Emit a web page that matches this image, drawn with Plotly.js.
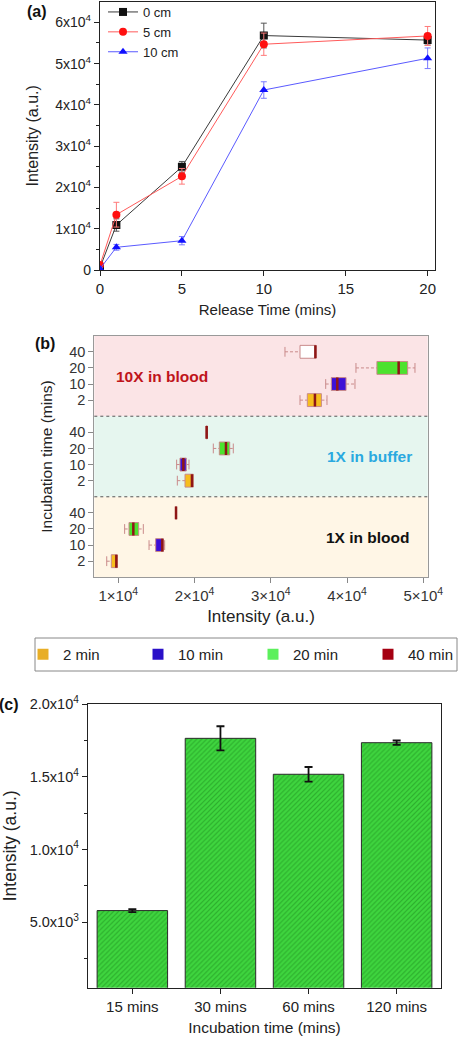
<!DOCTYPE html>
<html>
<head>
<meta charset="utf-8">
<script src="https://cdn.plot.ly/plotly-3.0.1.min.js"></script>
<style>html,body{margin:0;padding:0;background:#fff;}#chart{width:458px;height:1040px;}</style>
</head>
<body>
<div id="chart"></div>
<script>
// ---------- Panel (a) data ----------
const releaseTimes = [0, 1, 5, 10, 20];
const series0cm = [600, 10900, 25000, 56800, 55700];
const err0cm = [300, 1500, 1300, 3000, 1200];
const series5cm = [1200, 13400, 22700, 54700, 56700];
const err5cm = [500, 3000, 1900, 2700, 2300];
const series10cm = [300, 5500, 7100, 43600, 51300];
const err10cm = [200, 700, 1000, 2000, 2500];

// ---------- Panel (b) data: rows = 2,10,20,40 min; cols = [lower, q1, median, q3, upper] ----------
const incubLabels = ['2 min', '10 min', '20 min', '40 min'];
const incubTickText = ['2', '10', '20', '40'];
const blood1X = [
  [8480, 9080, 9740, 9870, 9870],
  [14030, 14900, 15770, 15900, 16080],
  [10830, 11400, 11970, 12670, 13280],
  [17570, 17540, 17570, 17600, 17570]
];
const buffer1X = [
  [17740, 18750, 19660, 19840, 19840],
  [17650, 18090, 18530, 18920, 19270],
  [22460, 23250, 24120, 24610, 25080],
  [21590, 21500, 21590, 21680, 21590]
];
const blood10X = [
  [33830, 34790, 35790, 36640, 37370],
  [37200, 37940, 38720, 39870, 41040],
  [41170, 43920, 46770, 47950, 48910],
  [31860, 33830, 35850, 35930, 35930]
];
const groupNames = ['1X in blood', '1X in buffer', '10X in blood'];
const boxColors = ['#F6BE1E', '#3D10D6', '#4CE22E', '#FFFFFF'];
const legendColors = ['#E8AE26', '#2A10C8', '#5CF05C', '#A50012'];

// ---------- Panel (c) data ----------
const incubCats = ['15 mins', '30 mins', '60 mins', '120 mins'];
const incubValues = [5800, 17640, 15170, 17340];
const incubErrors = [100, 830, 500, 150];

const FONT = '"Liberation Sans", Arial, sans-serif';
const traces = [];

// Panel (a)
const aSeries = [
  {name: '0 cm', y: series0cm, e: err0cm, line: '#3a3a3a', mk: '#111111', err: '#555555', sym: 'square'},
  {name: '5 cm', y: series5cm, e: err5cm, line: '#ff5a5a', mk: '#ff1010', err: '#ff7a7a', sym: 'circle'},
  {name: '10 cm', y: series10cm, e: err10cm, line: '#5a5aff', mk: '#1010ff', err: '#7a7aff', sym: 'triangle-up'}
];
aSeries.forEach(s => {
  traces.push({
    type: 'scatter', mode: 'lines+markers', name: s.name,
    x: releaseTimes, y: s.y, xaxis: 'x', yaxis: 'y', legend: 'legend',
    line: {color: s.line, width: 1},
    marker: {color: s.mk, symbol: s.sym, size: 8},
    error_y: {type: 'data', array: s.e, visible: true, color: s.err, thickness: 1, width: 3}
  });
});

// Panel (b)
const groups = [blood1X, buffer1X, blood10X];
const groupBase = [0, 5, 10];
const whiskerColor = '#c98a8a';
groups.forEach((g, gi) => {
  g.forEach((st, ti) => {
    const pos = groupBase[gi] + ti;
    const [lf, q1, med, q3, uf] = st;
    traces.push({
      type: 'box', orientation: 'h', xaxis: 'x2', yaxis: 'y2', showlegend: false,
      name: groupNames[gi] + ' ' + incubLabels[ti],
      y: [pos], q1: [q1], median: [med], q3: [q3], lowerfence: [q1], upperfence: [q3],
      width: 0.8, whiskerwidth: 0,
      fillcolor: boxColors[ti], line: {color: whiskerColor, width: 1},
      hoverinfo: 'skip'
    });
    const wx = [], wy = [], cx = [], cy = [];
    if (lf < q1) { wx.push(lf, q1, null); wy.push(pos, pos, null); cx.push(lf); cy.push(pos); }
    if (uf > q3) { wx.push(q3, uf, null); wy.push(pos, pos, null); cx.push(uf); cy.push(pos); }
    if (wx.length) {
      traces.push({type: 'scatter', mode: 'lines', x: wx, y: wy, xaxis: 'x2', yaxis: 'y2', showlegend: false,
        line: {color: whiskerColor, width: 1, dash: '3px,2px'}, hoverinfo: 'skip'});
      traces.push({type: 'scatter', mode: 'markers', x: cx, y: cy, xaxis: 'x2', yaxis: 'y2', showlegend: false,
        marker: {symbol: 'line-ns', size: 7, line: {color: whiskerColor, width: 1}}, hoverinfo: 'skip'});
    }
    traces.push({type: 'scatter', mode: 'lines', x: [med, med], y: [pos - 0.4, pos + 0.4], xaxis: 'x2', yaxis: 'y2',
      showlegend: false, line: {color: '#8e1616', width: 2.5}, hoverinfo: 'skip'});
  });
});
incubLabels.forEach((lab, i) => {
  traces.push({type: 'scatter', mode: 'markers', name: lab, x: [null], y: [null], xaxis: 'x2', yaxis: 'y2',
    legend: 'legend2', marker: {symbol: 'square', size: 11, color: legendColors[i]}});
});

// Panel (c)
traces.push({
  type: 'bar', x: incubCats, y: incubValues, xaxis: 'x3', yaxis: 'y3', showlegend: false, width: 0.8,
  marker: {color: '#3fd63f', line: {color: '#2a2a2a', width: 1},
    pattern: {shape: '/', fgcolor: '#1c8a1c', size: 3.5, solidity: 0.35, fillmode: 'overlay'}},
  error_y: {type: 'data', array: incubErrors, visible: true, color: '#111', thickness: 1.8, width: 4}
});

const H = 1040, W = 458;
const px = v => v / W, py = v => 1 - v / H;
const ann = (text, x, y, size, color) => ({text, xref: 'paper', yref: 'paper', x: px(x), y: py(y),
  xanchor: 'center', yanchor: 'middle', showarrow: false, font: {size, color}});

const layout = {
  width: W, height: H, margin: {l: 0, r: 0, t: 0, b: 0, autoexpand: false},
  paper_bgcolor: '#fff', plot_bgcolor: 'rgba(0,0,0,0)',
  font: {family: FONT, color: '#222', size: 14},
  showlegend: true,
  // (a)
  xaxis: {domain: [px(100), px(435)], anchor: 'y', range: [0, 20.45], tickvals: [0, 5, 10, 15, 20],
    ticks: 'outside', ticklen: 5, tickcolor: '#222', showline: true, linecolor: '#222', linewidth: 1.2, mirror: true,
    showgrid: false, zeroline: false, tickfont: {size: 15},
    title: {text: 'Release Time (mins)', font: {size: 15}, standoff: 8}},
  yaxis: {domain: [py(270), py(1.7)], anchor: 'x', range: [0, 65000],
    tickvals: [0, 10000, 20000, 30000, 40000, 50000, 60000],
    ticktext: ['0', '1x10<sup>4</sup>', '2x10<sup>4</sup>', '3x10<sup>4</sup>', '4x10<sup>4</sup>', '5x10<sup>4</sup>', '6x10<sup>4</sup>'],
    ticks: 'outside', ticklen: 5, tickcolor: '#222', showline: true, linecolor: '#222', linewidth: 1.2, mirror: true,
    minor: {tickvals: [5000, 15000, 25000, 35000, 45000, 55000], ticks: 'outside', ticklen: 3, tickcolor: '#222'},
    showgrid: false, zeroline: false, tickfont: {size: 14},
    title: {text: 'Intensity (a.u.)', font: {size: 16}, standoff: 12}},
  legend: {x: px(103), y: py(-3), xanchor: 'left', yanchor: 'top', bgcolor: 'rgba(0,0,0,0)',
    font: {size: 13, color: '#222'}, tracegroupgap: 0, itemwidth: 30},
  // (b)
  xaxis2: {domain: [px(94.3), px(427.7)], anchor: 'y2', range: [6850, 50580],
    tickvals: [10000, 20000, 30000, 40000, 50000],
    ticktext: ['1×10<sup>4</sup>', '2×10<sup>4</sup>', '3×10<sup>4</sup>', '4×10<sup>4</sup>', '5×10<sup>4</sup>'],
    ticks: 'outside', ticklen: 5, tickcolor: '#888', showline: true, linecolor: '#999', linewidth: 1, mirror: true,
    showgrid: false, zeroline: false, tickfont: {size: 15, color: '#333'},
    title: {text: 'Intensity (a.u.)', font: {size: 17, color: '#222'}, standoff: 6}},
  yaxis2: {domain: [py(577.3), py(335.7)], anchor: 'x2', range: [-1, 14],
    tickvals: [0, 1, 2, 3, 5, 6, 7, 8, 10, 11, 12, 13],
    ticktext: incubTickText.concat(incubTickText, incubTickText),
    ticks: 'outside', ticklen: 5, tickcolor: '#888', showline: true, linecolor: '#999', linewidth: 1, mirror: true,
    showgrid: false, zeroline: false, tickfont: {size: 14.5, color: '#333'},
    title: {text: 'Incubation time (mins)', font: {size: 15.5, color: '#222'}, standoff: 12}},
  legend2: {orientation: 'h', x: px(23), y: py(638), xanchor: 'left', yanchor: 'top',
    bgcolor: 'rgba(0,0,0,0)', borderwidth: 0, entrywidth: 70, entrywidthmode: 'pixels',
    font: {size: 15, color: '#222'}, itemwidth: 30},
  // (c)
  xaxis3: {domain: [px(88.3), px(440.7)], anchor: 'y3', range: [-0.5, 3.5], type: 'category',
    ticks: 'outside', ticklen: 5, tickcolor: '#222', showline: true, linecolor: '#222', linewidth: 1.5, mirror: true,
    showgrid: false, zeroline: false, tickfont: {size: 15},
    title: {text: 'Incubation time (mins)', font: {size: 15.5}, standoff: 8}},
  yaxis3: {domain: [py(987.7), py(704)], anchor: 'x3', range: [500, 20000],
    tickvals: [5000, 10000, 15000, 20000],
    ticktext: ['5.0x10<sup>3</sup>', '1.0x10<sup>4</sup>', '1.5x10<sup>4</sup>', '2.0x10<sup>4</sup>'],
    ticks: 'outside', ticklen: 5, tickcolor: '#222', showline: true, linecolor: '#222', linewidth: 1.5, mirror: true,
    minor: {tickvals: [2500, 7500, 12500, 17500], ticks: 'outside', ticklen: 3, tickcolor: '#222'},
    showgrid: false, zeroline: false, tickfont: {size: 14.5},
    title: {text: 'Intensity (a.u.)', font: {size: 17.5}, standoff: 8}},
  shapes: [
    {type: 'rect', xref: 'x2 domain', yref: 'y2', x0: 0, x1: 1, y0: 9, y1: 14, fillcolor: '#fbe4e6', line: {width: 0}, layer: 'below'},
    {type: 'rect', xref: 'x2 domain', yref: 'y2', x0: 0, x1: 1, y0: 4, y1: 9, fillcolor: '#e6f6ef', line: {width: 0}, layer: 'below'},
    {type: 'rect', xref: 'x2 domain', yref: 'y2', x0: 0, x1: 1, y0: -1, y1: 4, fillcolor: '#fff6e6', line: {width: 0}, layer: 'below'},
    {type: 'line', xref: 'x2 domain', yref: 'y2', x0: 0, x1: 1, y0: 9, y1: 9, line: {color: '#555', width: 1, dash: 'dot'}},
    {type: 'line', xref: 'x2 domain', yref: 'y2', x0: 0, x1: 1, y0: 4, y1: 4, line: {color: '#555', width: 1, dash: 'dot'}},
    {type: 'rect', xref: 'paper', yref: 'paper', x0: px(35), x1: px(457), y0: py(671), y1: py(638), line: {color: '#888', width: 1}, fillcolor: 'rgba(0,0,0,0)'}
  ],
  annotations: [
    ann('<b>(a)</b>', 37, 12, 16, '#111'),
    ann('<b>(b)</b>', 45, 344, 16, '#111'),
    ann('<b>(c)</b>', 8.5, 704, 16, '#111'),
    ann('<b>10X in blood</b>', 162, 376, 15.5, '#c0141b'),
    ann('<b>1X in buffer</b>', 369, 456, 15.5, '#2aa9e0'),
    ann('<b>1X in blood</b>', 368, 537, 15.5, '#111')
  ]
};

Plotly.newPlot('chart', traces, layout, {displayModeBar: false, staticPlot: true});
</script>
</body>
</html>
